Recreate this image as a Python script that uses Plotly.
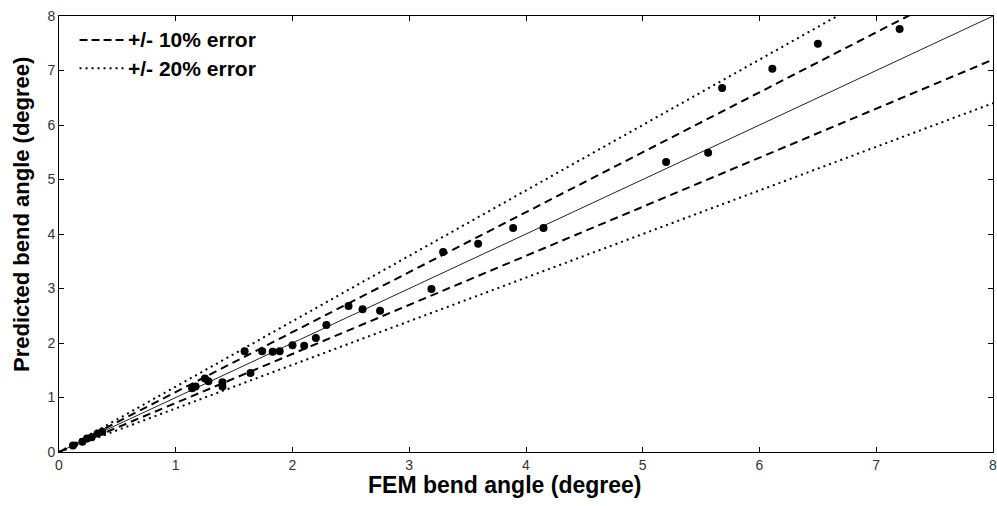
import plotly.graph_objects as go

# FEM vs predicted bend angles (degree)
fem_angle = [0.12, 0.20, 0.24, 0.28, 0.33, 0.37,
             1.14, 1.17, 1.25, 1.28, 1.40, 1.40, 1.64, 1.59, 1.74, 1.83, 1.89,
             2.00, 2.10, 2.20, 2.29, 2.48, 2.60, 2.75,
             3.19, 3.29, 3.59, 3.89, 4.15,
             5.20, 5.56, 5.68, 6.11, 6.50, 7.20]
predicted_angle = [0.12, 0.19, 0.25, 0.27, 0.34, 0.37,
                   1.17, 1.20, 1.35, 1.30, 1.28, 1.20, 1.45, 1.85, 1.85, 1.84, 1.85,
                   1.96, 1.95, 2.09, 2.33, 2.68, 2.62, 2.59,
                   2.99, 3.67, 3.82, 4.11, 4.11,
                   5.32, 5.49, 6.68, 7.03, 7.49, 7.76]

# Reference line and error bands
line_x = [0, 8]
band_ratios = {"exact": 1.0, "plus10": 1.1, "minus10": 0.9, "plus20": 1.2, "minus20": 0.8}

x_ticks = [0, 1, 2, 3, 4, 5, 6, 7, 8]
y_ticks = [0, 1, 2, 3, 4, 5, 6, 7, 8]

fig = go.Figure()

styles = {
    "exact": dict(color="#222", width=1, dash="solid"),
    "plus10": dict(color="black", width=2, dash="8px,5px"),
    "minus10": dict(color="black", width=2, dash="8px,5px"),
    "plus20": dict(color="black", width=2, dash="2px,4px"),
    "minus20": dict(color="black", width=2, dash="2px,4px"),
}
for key, r in band_ratios.items():
    fig.add_trace(go.Scatter(x=line_x, y=[r * v for v in line_x], mode="lines",
                             line=styles[key], showlegend=False, hoverinfo="skip"))

fig.add_trace(go.Scatter(x=fem_angle, y=predicted_angle, mode="markers",
                         marker=dict(color="black", size=8, symbol="circle"),
                         showlegend=False))

axis_common = dict(range=[0, 8], ticks="inside", ticklen=5, tickcolor="black",
                   showline=True, linecolor="black", linewidth=1, mirror="ticks",
                   showgrid=False, zeroline=False, ticklabeloverflow="allow",
                   automargin=False,
                   tickfont=dict(family="Arial, Liberation Sans", size=14, color="#333"))
fig.update_xaxes(tickvals=x_ticks, **axis_common)
fig.update_yaxes(tickvals=y_ticks, **axis_common)

# Legend drawn as line samples and labels
legend_items = [("+/- 10% error", "8px,4px", 0.945), ("+/- 20% error", "2px,4px", 0.880)]
for label, dash, yp in legend_items:
    fig.add_shape(type="line", xref="paper", yref="paper",
                  x0=0.022, x1=0.072, y0=yp, y1=yp,
                  line=dict(color="black", width=2, dash=dash))
    fig.add_annotation(x=0.072, y=yp, xref="paper", yref="paper", text=label,
                       showarrow=False, xanchor="left", yanchor="middle",
                       font=dict(family="Arial, Liberation Sans", size=21, color="black",
                                 weight="bold"))

fig.add_annotation(x=0.4775, y=-0.0757, xref="paper", yref="paper",
                   text="FEM bend angle (degree)", showarrow=False,
                   xanchor="center", yanchor="middle",
                   font=dict(family="Arial, Liberation Sans", size=23, color="black", weight="bold"))
fig.add_annotation(x=-0.0396, y=0.5436, xref="paper", yref="paper",
                   text="Predicted bend angle (degree)", showarrow=False, textangle=-90,
                   xanchor="center", yanchor="middle",
                   font=dict(family="Arial, Liberation Sans", size=22, color="black", weight="bold"))

fig.update_layout(width=997, height=506, margin=dict(l=59, r=4, t=16, b=54, autoexpand=False),
                  plot_bgcolor="white", paper_bgcolor="white", showlegend=False)

fig.write_html("out.html")
